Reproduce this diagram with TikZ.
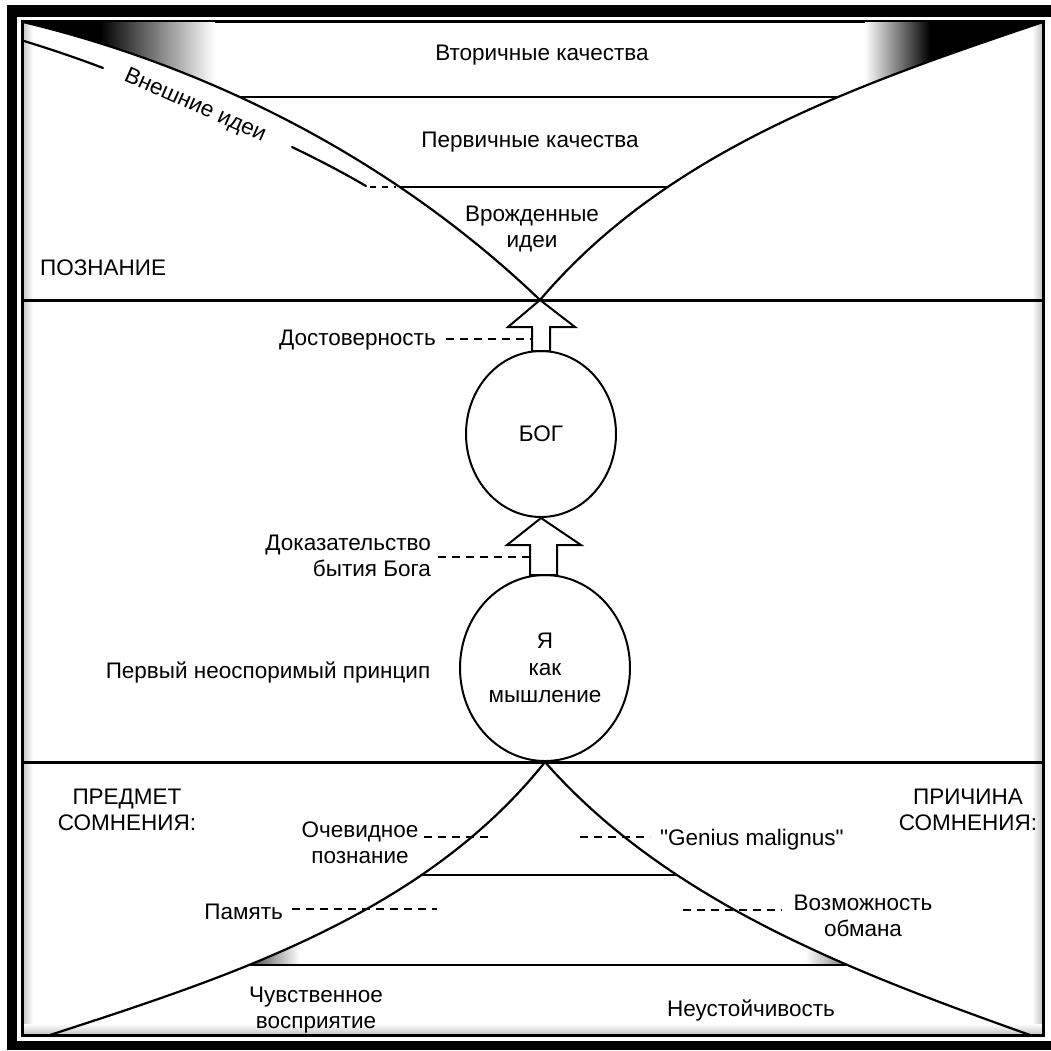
\documentclass[tikz,border=0pt]{standalone}
\usepackage{fontspec}
\setmainfont{Liberation Sans}
\newfontfamily\qfont{Liberation Sans}
\usetikzlibrary{shapes.geometric}
\begin{document}
\begin{tikzpicture}[x=1pt,y=-1pt,
  every node/.style={font=\fontsize{22.5}{26}\selectfont, inner sep=0pt, align=center},
  sepline/.style={line width=3pt},
  curveline/.style={line width=2.2pt, line join=round, line cap=round},
  dashline/.style={line width=2pt, dash pattern=on 8pt off 6pt},
  blockarrow/.style={draw, fill=white, line width=2pt, line join=miter},
  circ/.style={ellipse, draw, line width=2pt, inner sep=0pt}]
\useasboundingbox (0,0) rectangle (1051,1050);
% frame
\fill[black] (7,5) rectangle (1051,17);
\fill[black] (7,5) rectangle (17,1050);
\fill[black] (7,1041) rectangle (1051,1050);
\shade[left color=black!22, right color=white] (23,22) rectangle (33,1034);
\shade[left color=white, right color=black!22] (1032,22) rectangle (1042,1034);
\shade[top color=white, bottom color=black!22] (23,1024) rectangle (1042,1034);
\draw[line width=3pt] (22,21) rectangle (1043,1035);
% key points
\coordinate (tlc) at (23,22);
\coordinate (trc) at (1043,22);
\coordinate (xa) at (540,300);
\coordinate (xb) at (545,762);
\coordinate (blc) at (50,1035);
\coordinate (brc) at (1030,1035);
% dark wedges top
\begin{scope}
\clip (tlc) .. controls (215,68) and (397,163) .. (xa) -- (540,22) -- cycle;
\fill[black] (20,20) rectangle (100,130);
\shade[left color=black, right color=white] (100,20) rectangle (215,130);
\end{scope}
\begin{scope}
\clip (trc) .. controls (863,83) and (669,148) .. (xa) -- (540,22) -- cycle;
\fill[black] (930,20) rectangle (1045,130);
\shade[left color=white, right color=black] (865,20) rectangle (930,130);
\end{scope}
% top V: curves and inner levels
\begin{scope}
\clip (tlc) .. controls (215,68) and (397,163) .. (xa) .. controls (669,148) and (863,83) .. (trc) -- cycle;
\draw[curveline] (30,97) -- (1040,97);
\draw[curveline] (30,187) -- (1040,187);
\end{scope}
\draw[curveline] (tlc) .. controls (215,68) and (397,163) .. (xa);
\draw[curveline] (trc) .. controls (863,83) and (669,148) .. (xa);
% bottom V: wedges, levels, curves
\begin{scope}
\clip (xb) .. controls (423,915) and (228,977) .. (blc) -- (brc) .. controls (859,974) and (670,904) .. (xb) -- cycle;
\shade[left color=black!85, right color=white] (240,935) rectangle (300,965);
\shade[left color=white, right color=black!55] (805,940) rectangle (850,965);
\draw[curveline] (30,875) -- (1040,875);
\draw[curveline] (30,965) -- (1040,965);
\end{scope}
\draw[curveline] (xb) .. controls (423,915) and (228,977) .. (blc);
\draw[curveline] (xb) .. controls (670,904) and (859,974) .. (brc);
% separators
\draw[sepline] (22,300) -- (1043,300);
\draw[sepline] (22,762) -- (1043,762);
% circles
\node[circ, minimum width=150pt, minimum height=166pt] (bog) at (541,434) {БОГ};
\node[circ, minimum width=170pt, minimum height=186pt, font=\fontsize{22.5}{27}\selectfont] (ya) at (545,668) {Я\\как\\мышление};
% block arrows
\draw[blockarrow] (xa) -- (575,327) -- (550,327) -- (550,351) -- (532,351) -- (532,327) -- (508,327) -- cycle;
\draw[blockarrow] (bog.south) -- (581,545) -- (557,545) -- (557,575) -- (530,575) -- (530,545) -- (507,545) -- cycle;
% external ideas line
\draw[curveline] (24,41) .. controls (50,49) and (77,58) .. (103,68);
\draw[curveline] (292,147) .. controls (317,159) and (342,172) .. (366,186);
\coordinate (vn) at (396,187);
\draw[line width=2pt, dash pattern=on 6pt off 6pt] (370,187) -- (vn);
% labels top
\node (vtor) at (542,55) {Вторичные качества};
\node (perv) at (530,142) {Первичные качества};
\node (vrozh) at (532,229) {Врожденные\\идеи};
\node[rotate=-24] (vnesh) at (195,106) {Внешние идеи};
\node[anchor=west] (pozn) at (40,268) {ПОЗНАНИЕ};
% middle labels
\coordinate (sh1) at (532,339);
\node[anchor=east] (dost) at (436,340) {Достоверность};
\coordinate (d1) at (446,339);
\draw[dashline] (d1) -- (sh1);
\coordinate (sh2) at (530,557);
\node[anchor=east, align=right] (dokaz) at (431,556) {Доказательство\\бытия Бога};
\coordinate (d2) at (438,557);
\draw[dashline] (d2) -- (sh2);
\node (perviy) at (268,672) {Первый неоспоримый принцип};
% bottom labels
\node (predmet) at (127,810) {ПРЕДМЕТ\\СОМНЕНИЯ:};
\node (prichina) at (968,810) {ПРИЧИНА\\СОМНЕНИЯ:};
\node (ochev) at (360,843) {Очевидное\\познание};
\coordinate (os) at (424,837); \coordinate (oe) at (493,837);
\draw[dashline] (os) -- (oe);
\node[anchor=west, font=\qfont\fontsize{22.5}{26}\selectfont] (genius) at (660,840) {"Genius malignus"};
\coordinate (gs) at (580,837); \coordinate (ge) at (650,837);
\draw[dashline] (gs) -- (ge);
\node[anchor=east] (pamyat) at (283,912) {Память};
\coordinate (ps) at (292,909); \coordinate (pe) at (437,909);
\draw[dashline] (ps) -- (pe);
\node (vozm) at (863,916) {Возможность\\обмана};
\coordinate (vs) at (683,910); \coordinate (ve) at (782,910);
\draw[dashline] (vs) -- (ve);
\node (chuvst) at (316,1010) {Чувственное\\восприятие};
\node (neust) at (751,1010) {Неустойчивость};
\end{tikzpicture}
\end{document}
